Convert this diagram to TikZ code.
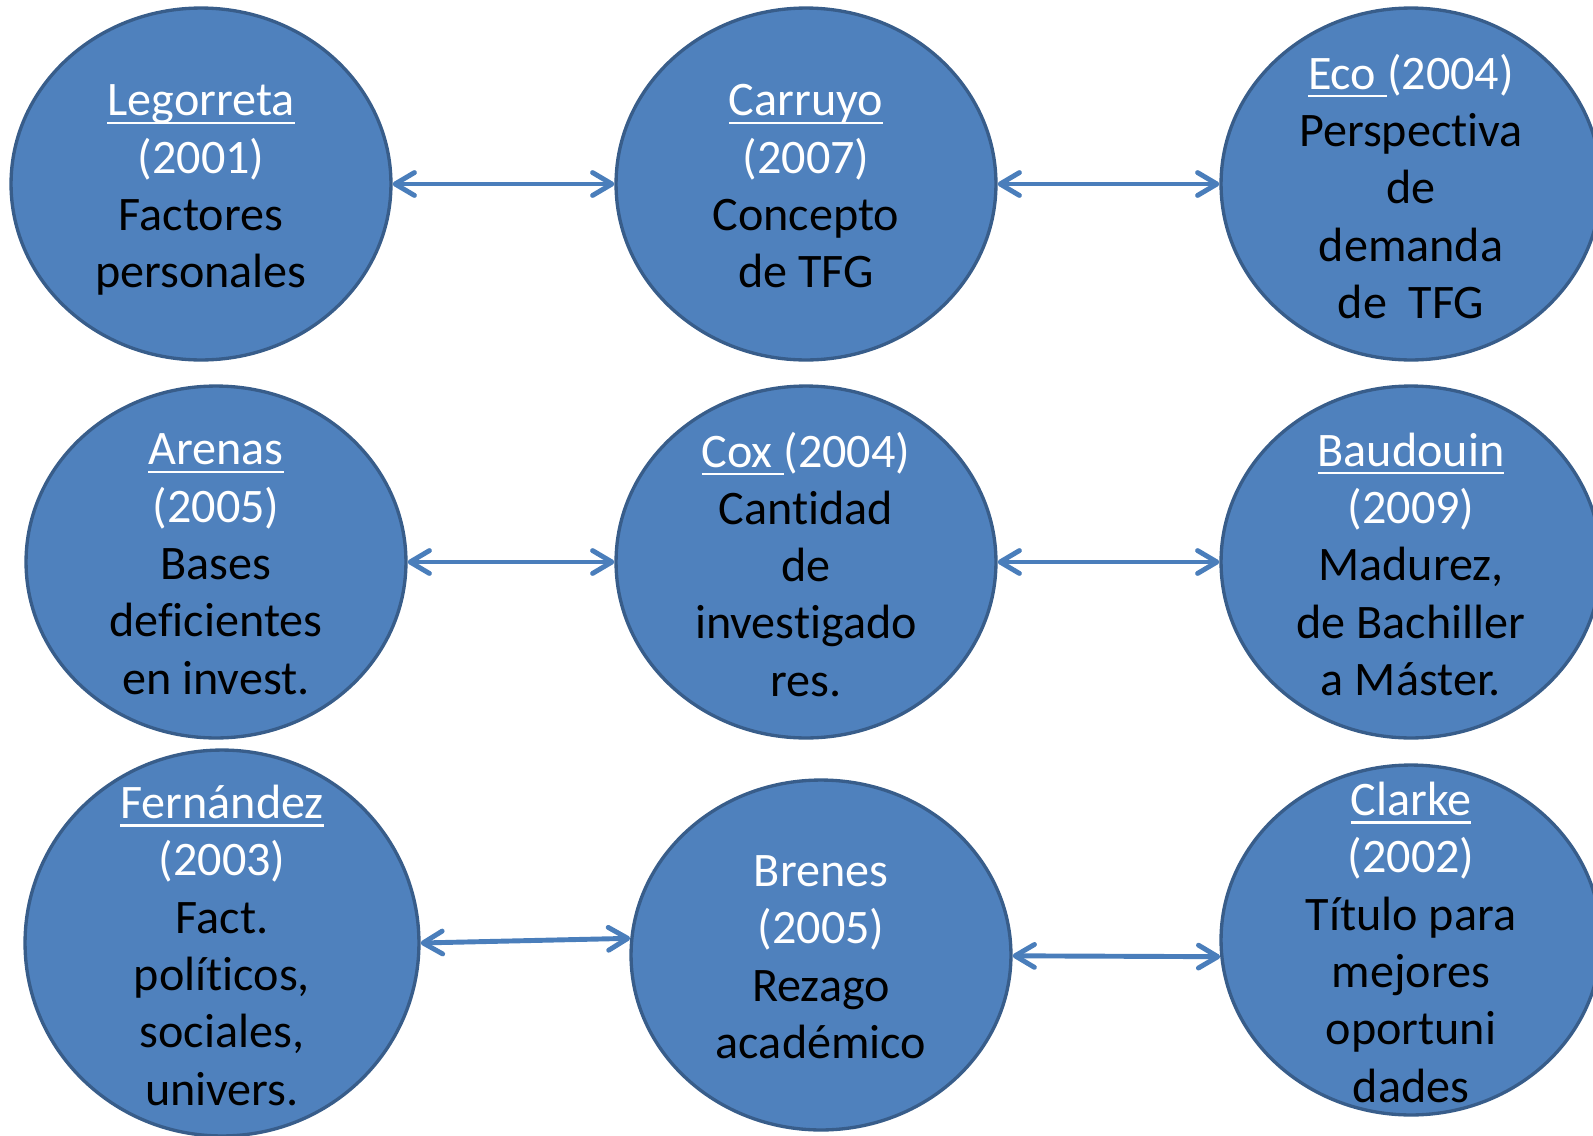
\documentclass[tikz,border=0pt]{standalone}
\usepackage{fontspec}
\setmainfont{Carlito}[Ligatures=NoCommon]
\definecolor{bubblefill}{RGB}{79,129,189}
\definecolor{bubbleline}{RGB}{56,93,138}
\definecolor{arrowblue}{RGB}{74,126,187}
\usetikzlibrary{shapes.geometric,arrows.meta}
\newcommand{\namebar}[1]{\setbox0\hbox{#1}\rlap{\rule[-4.5pt]{\wd0}{1.2pt}}\box0}
\newcommand{\who}[1]{\textcolor{white}{#1}}

\begin{document}
\begin{tikzpicture}[x=0.02cm,y=-0.02cm,
        bubble/.style={ellipse, fill=bubblefill, draw=bubbleline, line width=1.9pt,
            minimum width=7.6cm, minimum height=7.04cm, inner sep=0pt},
        words/.style={text=black, align=center, inner sep=0pt, yshift=-1.3pt,
            font=\fontsize{27.4}{32.6}\selectfont},
        link/.style={draw=arrowblue, line width=2.8pt, line cap=round, <->,
            >={Straight Barb[length=11pt,width=13pt,round]}}]
        
        \useasboundingbox (0,0) rectangle (1593,1136);
        
        \node[bubble] (leg) at (201,184) {} ;
        \node[bubble] (car) at (806,184) {} ;
        \node[bubble] (eco) at (1411,184) {} ;
        \node[bubble] (are) at (216,562) {} ;
        \node[bubble] (cox) at (806,562) {} ;
        \node[bubble] (bau) at (1411,562) {} ;
        \node[bubble, minimum width=7.88cm, minimum height=7.72cm] (fer) at (222,943) {} ;
        \node[bubble, minimum height=7cm] (bre) at (821,955) {} ;
        \node[bubble, minimum height=7cm] (cla) at (1411,940) {} ;
        
        \node[words, yshift=-2.2pt] (legtxt) at (leg) {\who{\namebar{Legorreta}}\\\who{(2001)}\\Factores\\personales} ;
        \node[words] (cartxt) at (car) {\who{\namebar{Carruyo}}\\\who{(2007)}\\Concepto\\de TFG} ;
        \node[words] (ecotxt) at (eco) {\who{\namebar{Eco\ }(2004)}\\Perspectiva\\de\\demanda\\de~~TFG} ;
        \node[words] (aretxt) at (are) {\who{\namebar{Arenas}}\\\who{(2005)}\\Bases\\deficientes\\en invest.} ;
        \node[words] (coxtxt) at (cox) {\who{\namebar{Cox\ }(2004)}\\Cantidad\\de\\investigado\\res.} ;
        \node[words] (bautxt) at (bau) {\who{\namebar{Baudouin}}\\\who{(2009)}\\Madurez,\\de Bachiller\\a Máster.} ;
        \node[words] (fertxt) at (fer) {\who{\namebar{Fernández}}\\\who{(2003)}\\Fact.\\políticos,\\sociales,\\univers.} ;
        \node[words] (bretxt) at (bre) {\who{Brenes}\\\who{(2005)}\\Rezago\\académico} ;
        \node[words] (clatxt) at (cla) {\who{\namebar{Clarke}}\\\who{(2002)}\\Título para\\mejores\\oportuni\\dades} ;
        
        \draw[link] (leg) -- (car) ;
        \draw[link] (car) -- (eco) ;
        \draw[link] (are) -- (cox) ;
        \draw[link] (cox) -- (bau) ;
        \draw[link] (fer.east) -- (bre.175) ;
        \draw[link] (bre) -- (cla.185) ;
        
    \end{tikzpicture}
\end{document}
